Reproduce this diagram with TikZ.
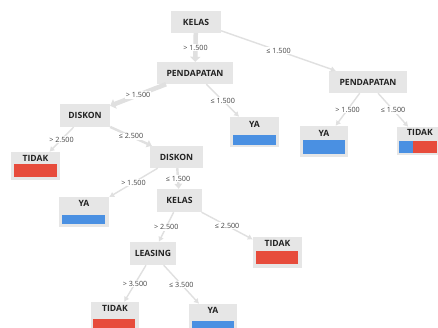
\documentclass[tikz,border=0pt]{standalone}
\usepackage{fontspec}
\setmainfont{Open Sans}
\usetikzlibrary{arrows.meta}
\definecolor{boxgray}{HTML}{E6E6E6}
\definecolor{linegray}{HTML}{E0E0E0}
\definecolor{txt}{HTML}{222222}
\definecolor{barblue}{HTML}{4A90E2}
\definecolor{barred}{HTML}{E74C3C}
\tikzset{
  dec/.style={fill=boxgray, draw=none, inner sep=0pt, text=txt, font=\fontsize{8.6}{10}\selectfont\bfseries},
  leaf/.style={fill=boxgray, draw=none, inner sep=0pt},
  ttl/.style={text=txt, font=\fontsize{8.6}{10}\selectfont\bfseries, inner sep=0pt},
  edge/.style={draw=linegray, line width=1.4pt, -{Latex[length=5pt,width=6pt]}},
  thick edge/.style={draw=linegray, line width=4.5pt, -{Triangle[length=5pt,width=10pt]}},
  mid edge/.style={draw=linegray, line width=2.4pt, -{Triangle[length=5pt,width=7.5pt]}},
  elab/.style={midway, fill=white, text=txt!85, inner sep=1pt, font=\fontsize{7.2}{8}\selectfont},
}
\begin{document}
\begin{tikzpicture}[x=1pt,y=-1pt]
\useasboundingbox[fill=white] (0,0) rectangle (438,327);
% decision nodes
\node[dec, minimum width=50pt, minimum height=22pt] (k1) at (196,22) {KELAS};
\node[dec, minimum width=76pt, minimum height=22pt] (p1) at (195,73) {PENDAPATAN};
\node[dec, minimum width=78pt, minimum height=22pt] (p2) at (368,82) {PENDAPATAN};
\node[dec, minimum width=50pt, minimum height=23pt] (d1) at (85,115.5) {DISKON};
\node[dec, minimum width=53pt, minimum height=22pt] (d2) at (176.5,157) {DISKON};
\node[dec, minimum width=45pt, minimum height=23pt] (k2) at (179.5,200.5) {KELAS};
\node[dec, minimum width=46pt, minimum height=23pt] (le) at (153,253.5) {LEASING};
% leaf nodes
\node[leaf, minimum width=49pt, minimum height=28pt] (t1) at (35.5,166) {};
\node[leaf, minimum width=50pt, minimum height=30pt] (y1) at (84,212) {};
\node[leaf, minimum width=49pt, minimum height=30pt] (y2) at (254.5,132) {};
\node[leaf, minimum width=48pt, minimum height=31pt] (y3) at (324,141.5) {};
\node[leaf, minimum width=48pt, minimum height=28pt] (t2) at (421,141) {};
\node[leaf, minimum width=49pt, minimum height=31pt] (t3) at (277.5,252.5) {};
\node[leaf, minimum width=48pt, minimum height=30pt] (t4) at (115,317) {};
\node[leaf, minimum width=48pt, minimum height=30pt] (y4) at (213,319) {};
% leaf titles
\node[ttl] (t1l) at (35.5,158) {TIDAK};
\node[ttl] (y1l) at (84,203.5) {YA};
\node[ttl] (y2l) at (254.5,124) {YA};
\node[ttl] (y3l) at (324,133) {YA};
\node[ttl] (t2l) at (420,132) {TIDAK};
\node[ttl] (t3l) at (277.5,243.5) {TIDAK};
\node[ttl] (t4l) at (115,308.5) {TIDAK};
\node[ttl] (y4l) at (213,310.5) {YA};
% bars
\fill[barred] (14,164) rectangle (57,177);
\fill[barblue] (62,214.5) rectangle (105,224);
\fill[barblue] (233,135) rectangle (276,145);
\fill[barblue] (303,140) rectangle (345,154);
\fill[barblue] (399,141) rectangle (413,153);
\fill[barred] (413,141) rectangle (437,153);
\fill[barred] (256,251) rectangle (298,264);
\fill[barred] (93,319) rectangle (135,330);
\fill[barblue] (192,321) rectangle (234,330);
% edges
\path[thick edge] (k1) -- (p1) node[elab] {> 1.500};
\path[edge] (k1) -- (p2) node[elab] {≤ 1.500};
\path[thick edge] (p1) -- (d1) node[elab] {> 1.500};
\path[edge] (p1) -- (y2) node[elab] {≤ 1.500};
\path[edge] (p2) -- (y3) node[elab] {> 1.500};
\path[edge] (p2) -- (t2) node[elab] {≤ 1.500};
\path[edge] (d1) -- (t1) node[elab] {> 2.500};
\path[mid edge] (d1) -- (d2) node[elab] {≤ 2.500};
\path[edge] (d2) -- (y1) node[elab] {> 1.500};
\path[mid edge] (d2) -- (k2) node[elab] {≤ 1.500};
\path[edge] (k2) -- (le) node[elab] {> 2.500};
\path[edge] (k2) -- (t3) node[elab] {≤ 2.500};
\path[edge] (le) -- (t4) node[elab] {> 3.500};
\path[edge] (le) -- (y4) node[elab] {≤ 3.500};
\end{tikzpicture}
\end{document}
